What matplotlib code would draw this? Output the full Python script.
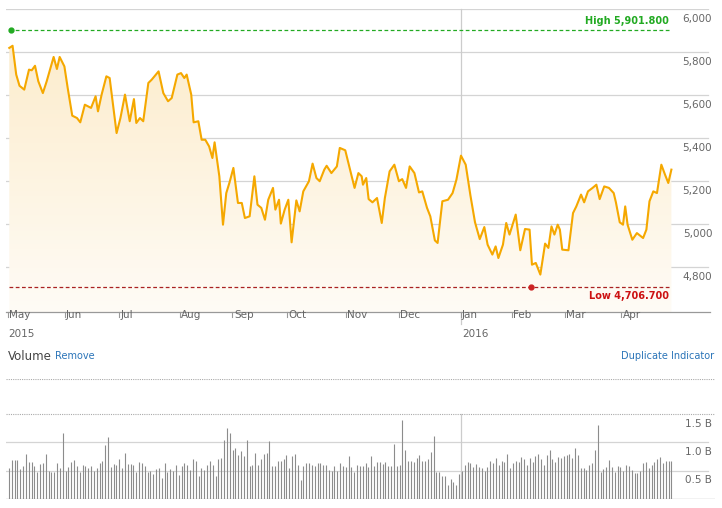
import numpy as np
import matplotlib
matplotlib.use("Agg")
import matplotlib.pyplot as plt
from matplotlib.patches import Polygon

# price series: days since 2015-05-01, index level
days = [0.7, 2.5, 4.5, 6.3, 8.9, 11.5, 13.0, 14.8, 16.6, 19.1, 21.2, 25.0, 26.8, 28.3, 30.9, 32.7,
        35.2, 37.8, 39.6, 42.1, 45.5, 48.0, 49.3, 51.3, 53.9, 55.7, 59.5, 61.6, 64.1, 66.7, 69.0,
        70.3, 72.3, 74.1, 76.9, 78.7, 82.5, 85.1, 87.7, 89.7, 92.8, 94.8, 96.6, 97.9, 100.4, 101.7,
        104.3, 106.1, 108.1, 110.2, 112.0, 113.2, 115.8, 117.8, 119.6, 121.4, 123.5, 126.0, 128.1,
        129.8, 132.4, 135.0, 136.7, 138.8, 140.8, 142.6, 145.2, 146.5, 148.5, 149.5, 151.6, 153.6,
        155.4, 158.0, 159.8, 161.8, 164.9, 166.9, 169.0, 170.8, 173.3, 174.6, 177.2, 180.2, 181.8,
        184.8, 186.9, 189.9, 192.0, 193.8, 194.5, 196.3, 197.6, 199.7, 202.2, 204.8, 206.5, 209.1,
        211.7, 214.2, 216.0, 218.1, 220.1, 222.7, 225.2, 227.0, 229.6, 231.4, 233.9, 235.4, 238.0,
        241.1, 243.6, 245.7, 248.2, 250.8, 253.4, 255.9, 258.5, 261.0, 262.8, 265.4, 267.2, 268.7,
        271.2, 273.0, 274.8, 278.2, 280.7, 283.3, 285.8, 287.1, 289.2, 291.7, 294.3, 296.1, 297.8,
        299.4, 301.2, 302.4, 303.7, 307.1, 309.6, 311.4, 314.0, 315.7, 317.8, 320.3, 322.4, 324.2,
        326.7, 329.3, 331.9, 333.1, 335.2, 337.0, 338.2, 339.5, 342.1, 344.6, 348.0, 349.8, 351.5,
        353.6, 355.6, 358.0, 360.0, 361.8, 363.5]
price = [5819, 5829, 5695, 5643, 5625, 5718, 5715, 5736, 5664, 5609, 5664, 5777, 5721, 5777, 5733, 5633,
         5504, 5493, 5473, 5555, 5540, 5594, 5524, 5602, 5687, 5679, 5423, 5493, 5602, 5478, 5581,
         5470, 5493, 5478, 5656, 5671, 5710, 5609, 5571, 5586, 5695, 5702, 5679, 5695, 5602, 5473,
         5478, 5392, 5392, 5361, 5307, 5380, 5222, 4997, 5144, 5194, 5261, 5098, 5098,
         5028, 5036, 5222, 5090, 5075, 5020, 5113, 5168, 5067, 5113, 5002, 5067, 5113,
         4915, 5110, 5059, 5152, 5199, 5281, 5214, 5199, 5253, 5271, 5237, 5268, 5354,
         5343, 5271, 5168, 5237, 5222, 5183, 5214, 5116, 5101, 5121, 5005, 5121, 5245,
         5276, 5199, 5209, 5168, 5268, 5237, 5147, 5152, 5075, 5036, 4924, 4912, 5106,
         5113, 5144, 5206, 5318, 5276, 5132, 5008, 4930, 4986, 4904, 4858, 4896, 4842,
         4904, 5005, 4951, 5044, 4878, 4977, 4974, 4811, 4819, 4765, 4909, 4889, 4989,
         4951, 4997, 4974, 4881, 4878, 5051, 5082, 5137, 5101, 5152, 5168, 5183, 5116,
         5175, 5168, 5144, 5101, 5008, 4997, 5082, 4997, 4927, 4958, 4935, 4974, 5106,
         5152, 5144, 5276, 5230, 5191, 5253]

# daily volume, billions
volume = [0.55, 0.69, 0.69, 0.69, 0.53, 0.59, 0.8, 0.65, 0.65, 0.58, 0.47, 0.62, 0.64, 0.8, 0.5, 0.48,
          0.47, 0.63, 0.55, 1.17, 0.5, 0.57, 0.66, 0.69, 0.58, 0.48, 0.6, 0.59, 0.55, 0.58, 0.5, 0.55,
          0.63, 0.68, 0.96, 1.1, 0.56, 0.62, 0.6, 0.71, 0.55, 0.82, 0.62, 0.62, 0.6, 0.48, 0.65, 0.63,
          0.59, 0.48, 0.5, 0.44, 0.53, 0.55, 0.37, 0.64, 0.48, 0.53, 0.5, 0.6, 0.43, 0.58, 0.64, 0.6,
          0.52, 0.7, 0.68, 0.4, 0.55, 0.52, 0.6, 0.68, 0.6, 0.4, 0.7, 0.72, 1.05, 1.25, 1.16, 0.87,
          0.9, 0.77, 0.85, 0.76, 1.05, 0.58, 0.6, 0.81, 0.6, 0.7, 0.79, 0.82, 1.02, 0.58, 0.58, 0.68,
          0.67, 0.7, 0.78, 0.55, 0.76, 0.8, 0.6, 0.34, 0.58, 0.64, 0.63, 0.6, 0.58, 0.64, 0.63, 0.6,
          0.6, 0.51, 0.5, 0.58, 0.5, 0.63, 0.58, 0.56, 0.76, 0.57, 0.47, 0.6, 0.58, 0.58, 0.64, 0.57,
          0.76, 0.59, 0.66, 0.65, 0.62, 0.65, 0.59, 0.58, 0.97, 0.58, 0.6, 1.4, 0.86, 0.68, 0.68, 0.66,
          0.72, 0.78, 0.68, 0.67, 0.7, 0.83, 1.12, 0.48, 0.48, 0.4, 0.4, 0.25, 0.35, 0.3, 0.24, 0.45,
          0.5, 0.6, 0.65, 0.63, 0.57, 0.62, 0.56, 0.54, 0.5, 0.56, 0.68, 0.64, 0.72, 0.6, 0.67, 0.65,
          0.8, 0.55, 0.63, 0.67, 0.66, 0.75, 0.7, 0.6, 0.72, 0.65, 0.76, 0.8, 0.7, 0.6, 0.78, 0.86,
          0.7, 0.66, 0.74, 0.72, 0.76, 0.78, 0.8, 0.72, 0.9, 0.77, 0.55, 0.55, 0.52, 0.6, 0.63, 0.86,
          1.3, 0.48, 0.53, 0.57, 0.69, 0.57, 0.48, 0.59, 0.57, 0.5, 0.6, 0.58, 0.51, 0.46, 0.46, 0.49,
          0.63, 0.65, 0.55, 0.6, 0.66, 0.7, 0.74, 0.64, 0.68, 0.68, 0.68]

month_days = [0, 31, 61, 94, 123, 153, 185, 214, 248, 276, 305, 336]
month_labels = ["May", "Jun", "Jul", "Aug", "Sep", "Oct", "Nov", "Dec", "Jan", "Feb", "Mar", "Apr"]
price_ticks = [4800, 5000, 5200, 5400, 5600, 5800, 6000]
vol_ticks = [0.5, 1.0, 1.5]
high_val, high_day = 5901.8, 0.7
low_val, low_day = 4706.7, 286.5

W, H = 722, 508
LINE = "#f5a800"
GRID = "#d4d4d4"
TXT = "#666666"
BLUE = "#2a74b8"
XMIN, XMAX = -1.1, 387.4


def rect(l, t, r, b):
    return [l / W, 1 - b / H, (r - l) / W, (b - t) / H]


fig = plt.figure(figsize=(W / 100, H / 100), dpi=100)
fig.patch.set_facecolor("white")

# ---- price panel
ax = fig.add_axes(rect(6, 9, 715, 312))
ax.set_xlim(XMIN, XMAX)
ax.set_ylim(4591, 6000)
for s in ax.spines.values():
    s.set_visible(False)
ax.set_xticks([])
ax.set_yticks([])
for v in price_ticks:
    ax.axhline(v, xmin=0, xmax=0.99, color=GRID, lw=0.9, zorder=0)
    ax.annotate(f"{v:,}", (1.0, v), xycoords=("axes fraction", "data"), xytext=(-2, -7),
                textcoords="offset points", ha="right", va="center", fontsize=7.5, color=TXT)
ax.axvline(month_days[8], color="#cccccc", lw=0.9, zorder=0, ymin=-0.04, clip_on=False)

# gradient fill under the line
verts = list(zip(days, price)) + [(days[-1], 4591), (days[0], 4591)]
poly = Polygon(verts, closed=True, facecolor="none", edgecolor="none")
ax.add_patch(poly)
grad = np.linspace(0.06, 0.32, 256).reshape(-1, 1)
img = ax.imshow(grad, extent=[XMIN, XMAX, 4591, 5850], origin="lower", aspect="auto",
                cmap=matplotlib.colors.LinearSegmentedColormap.from_list("o", ["white", "#f7c460"]),
                vmin=0, vmax=1, zorder=1)
img.set_clip_path(poly)
ax.plot(days, price, color=LINE, lw=1.5, zorder=3)

# high / low markers
ax.plot([high_day, 362], [high_val, high_val], color="#22aa22", lw=0.9, ls=(0, (3, 2)), zorder=2)
ax.plot(high_day + 1, high_val, "o", color="#22aa22", ms=3.5, zorder=4)
ax.text(362, high_val + 18, "High 5,901.800", color="#22aa22", fontsize=7, fontweight="bold",
        ha="right", va="bottom")
ax.plot([high_day, 362], [low_val, low_val], color="#aa2222", lw=0.9, ls=(0, (3, 2)), zorder=2)
ax.plot(low_day, low_val, "o", color="#cc2222", ms=3.5, zorder=4)
ax.text(362, low_val - 20, "Low 4,706.700", color="#cc1111", fontsize=7, fontweight="bold",
        ha="right", va="top")

# x axis line with month ticks
ax.plot([XMIN, XMAX - 3], [4591, 4591], color="#999999", lw=0.9, clip_on=False)
for d, lab in zip(month_days, month_labels):
    ax.plot([d, d], [4591, 4591 - 25], color="#999999", lw=0.8, clip_on=False)
    ax.text(d + 0.8, 4591 - 12, lab, fontsize=7.5, color=TXT, ha="left", va="center")
ax.text(month_days[0] + 0.3, 4591 - 100, "2015", fontsize=7.5, color=TXT, ha="left", va="center")
ax.text(month_days[8] + 1, 4591 - 100, "2016", fontsize=7.5, color=TXT, ha="left", va="center")

# ---- volume panel
fig.text(8 / W, 1 - 356 / H, "Volume", fontsize=8.5, color="#444444", va="center")
fig.text(55 / W, 1 - 356 / H, "Remove", fontsize=7, color=BLUE, va="center")
fig.text(714 / W, 1 - 356 / H, "Duplicate Indicator", fontsize=7, color=BLUE, va="center", ha="right")

vax = fig.add_axes(rect(6, 379, 715, 499))
vax.set_xlim(XMIN, XMAX)
vax.set_ylim(0, 2.12)
for s in vax.spines.values():
    s.set_visible(False)
vax.set_xticks([])
vax.set_yticks([])
vax.axhline(2.12, color="#aaaaaa", lw=0.8, ls=(0, (1, 1)))
vax.axhline(1.5, color="#aaaaaa", lw=0.8, ls=(0, (1, 1)))
for v in vol_ticks[:2]:
    vax.axhline(v, xmin=0, xmax=0.99, color=GRID, lw=0.9, zorder=0)
for v in vol_ticks:
    vax.annotate(f"{v} B", (1.0, v), xycoords=("axes fraction", "data"), xytext=(-2, -7),
                 textcoords="offset points", ha="right", va="center", fontsize=7.5, color=TXT)
vdays = np.linspace(0.5, 363.5, len(volume))
vax.vlines(vdays, 0, volume, color="#8c8c8c", lw=0.8)
vax.axvline(month_days[8], ymax=1.5 / 2.12, color="#cccccc", lw=0.9, zorder=0)
vax.axhline(0, color="#999999", lw=0.9)

fig.savefig("out.png", dpi=100)
